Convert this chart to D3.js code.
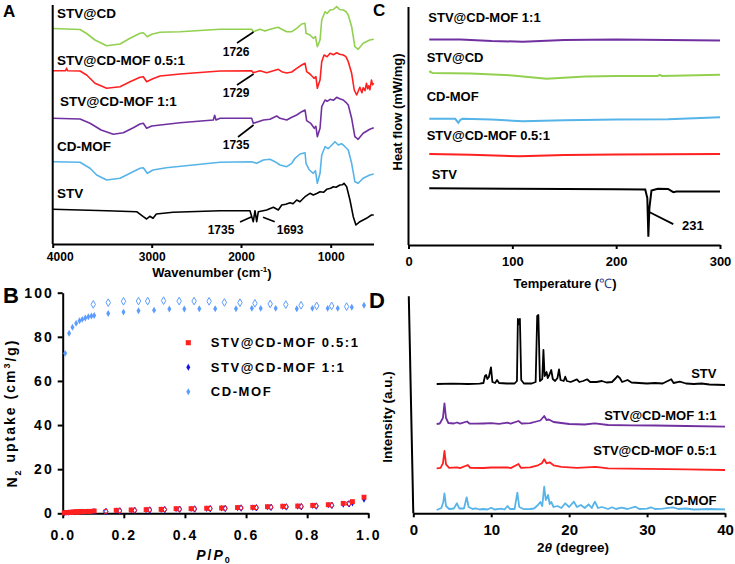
<!DOCTYPE html>
<meta charset="utf-8">
<script src="https://d3js.org/d3.v7.min.js"></script>
<style>
 body { margin: 0; background: #fff; }
 svg { font-family: "Liberation Sans", Arial, sans-serif; font-weight: bold; }
</style>
<div id="chart"></div>
<script>
const FONT = '"Liberation Sans", Arial, sans-serif';
const colorGreen = "#92d050", colorRed = "#ff2020", colorPurple = "#7030a0",
      colorSky = "#56b4e9", colorBlack = "#000000";
const colorMofBlue = "#5c9dff", colorDarkBlue = "#1414e6";

// ---------- A: FTIR (wavenumber, transmittance relative to start) ----------
const ftirNames = ["STV@CD", "STV@CD-MOF 0.5:1", "STV@CD-MOF 1:1", "CD-MOF", "STV"];
const ftirOffsets = [215.5, 173.3, 125.7, 82.3, 34.7];
const ftirSTVatCD = [[4000,0],[3724,-1],[3657,-5],[3573,-11.5],[3455,-17.2],[3320,-15.5],[3219,-9.8],[3118,-4.8],[3085,-4.2],[3045,-8.2],[3000,-5.8],[2907,-3.8],[2683,-3.2],[2235,-0.8],[1881,-0.8],[1863,-3.2],[1788,-0.8],[1732,-2.5],[1677,-0.8],[1584,1.2],[1546,-0.8],[1490,-3.2],[1434,-3.2],[1379,0.2],[1323,4.5],[1286,5.2],[1275,-4.8],[1231,-6.5],[1194,-9.8],[1170,-8],[1149,-18.2],[1119,-11.5],[1100,8.5],[1063,16.8],[1040,15],[1007,18.5],[970,19],[933,21.8],[900,19],[859,18.5],[830,17],[803,13.5],[765,1.8],[729,-18.2],[692,-20.8],[636,-14.8],[562,-11.5],[517,-10.8]];
const ftirMOF05 = [[4000,0],[3870,0],[3860,2.5],[3850,0],[3724,-0.3],[3657,-4.3],[3573,-12.6],[3455,-17.6],[3320,-16],[3219,-11],[3118,-6.6],[3085,-6],[3051,-11],[3000,-8.6],[2907,-5.3],[2683,-3.3],[2235,-0.3],[1881,0],[1863,-2],[1788,0],[1714,-2],[1639,0],[1584,1.4],[1546,-1],[1490,-2.3],[1434,-1.3],[1379,2.4],[1323,5.7],[1286,7.4],[1268,-1],[1231,-3.3],[1186,-7.6],[1165,-6],[1149,-17.6],[1119,-9.3],[1100,9],[1074,15.7],[1040,14],[1007,17.4],[970,16],[933,18],[900,16.5],[859,15.7],[830,14],[803,9],[765,-2.6],[736,-19.3],[709,-24.3],[673,-16.6],[650,-22],[636,-17],[615,-20],[599,-12.6],[585,-18],[573,-15],[560,-19],[543,-9.3],[530,-14],[517,-12.6]];
const ftirMOF11 = [[4000,0],[3724,-0.7],[3623,-5],[3511,-11.7],[3388,-16],[3287,-14.4],[3186,-9.4],[3118,-5.7],[3085,-5],[3051,-10],[3000,-7.7],[2683,-4.4],[2310,-1.7],[2295,3],[2280,-1.7],[2235,0],[1881,0],[1863,-5],[1750,-1.7],[1677,-1],[1602,2.3],[1565,0],[1490,-1.7],[1434,1],[1379,3.3],[1323,6.6],[1286,8.3],[1268,-2.4],[1223,-5],[1183,-10],[1165,-8],[1149,-18.4],[1119,-10],[1100,11.6],[1063,18.3],[1040,17],[1007,19],[970,18],[933,21],[900,19.5],[859,18.3],[830,16],[803,13.3],[765,0],[729,-18.4],[692,-21],[636,-15],[562,-11],[517,-9.4]];
const ftirCDMOF = [[4000,0],[3724,-0.6],[3623,-6.6],[3556,-13.3],[3455,-18.3],[3320,-16.6],[3219,-11.6],[3118,-6.6],[3085,-6],[3045,-11.6],[2985,-8.3],[2836,-6],[2537,-3.3],[2235,-0.6],[1881,0],[1825,-1.6],[1751,1.7],[1677,2.4],[1621,0],[1565,-3.3],[1490,-5],[1434,-1.6],[1398,3.4],[1342,7.7],[1286,9],[1275,-1.6],[1238,-8.3],[1194,-11.6],[1170,-9],[1149,-21.6],[1119,-11.6],[1100,6.7],[1063,15],[1030,13],[1007,15],[952,20],[915,16.7],[880,18],[859,16.7],[803,11.7],[765,-1.6],[729,-20],[692,-21.6],[636,-16.6],[562,-13.3],[517,-12.3]];
const ftirSTV = [[4000,0],[3455,-1.4],[3152,-2.4],[3085,-7.4],[3051,-9.7],[3020,-7],[2985,-9],[2948,-4.7],[2762,-3],[2235,-1.4],[1900,-1.4],[1863,-12.4],[1844,-1.4],[1825,-12.4],[1807,-2.4],[1714,-0.7],[1639,2],[1584,-0.7],[1546,4.3],[1500,5],[1453,6.6],[1420,5.5],[1379,9.3],[1342,7.6],[1310,10.5],[1286,12.6],[1231,16],[1194,14.3],[1150,16],[1119,17.6],[1080,17],[1045,20],[1000,21],[970,22.6],[940,22],[896,24.3],[870,24.5],[851,26],[821,22.6],[784,9.3],[747,-7.4],[717,-15.7],[673,-12.4],[599,-9],[543,-5.7],[517,-5.7]];
const ftirSeries = [ftirSTVatCD, ftirMOF05, ftirMOF11, ftirCDMOF, ftirSTV];
const ftirColors = [colorGreen, colorRed, colorPurple, colorSky, colorBlack];
const ftirTicks = [4000, 3000, 2000, 1000];
// label, series, line from (wn, v) to (wn, v), text at (wn, v)
const ftirNotes = [
  ["1726", 0, 1860, -3.5, 2045, -14.5, 2055, -23],
  ["1729", 1, 1860, -3.3, 2045, -14.3, 2055, -22],
  ["1735", 2, 1860, -6.7, 2034, -18.7, 2055, -26.7],
  ["1735", 4, 1880, -7.4, 2011, -12.7, 2224, -20.7],
  ["1693", 4, 1754, -8, 1624, -12.4, 1453, -20.7]
];

// ---------- B: N2 isotherms ----------
const bLegend = ["STV@CD-MOF 0.5:1", "STV@CD-MOF 1:1", "CD-MOF"];
const mofAds = [[0.008,72.5],[0.021,81.6],[0.032,84.3],[0.044,86.1],[0.055,87.3],[0.064,87.9],[0.074,88.5],[0.084,89.1],[0.094,89.4],[0.103,89.7],[0.149,90.6],[0.199,91.2],[0.248,91.8],[0.299,92.1],[0.349,92.6],[0.398,92.6],[0.447,92.7],[0.499,92.7],[0.567,92.7],[0.619,92.9],[0.648,92.9],[0.697,92.9],[0.766,92.7],[0.817,92.9],[0.867,92.9],[0.9,92.9],[0.946,93.4],[0.986,94.3]];
const mofDes = [[0.1,94.7],[0.149,95.5],[0.199,96.1],[0.248,96.2],[0.278,96.2],[0.33,96.4],[0.381,96.2],[0.43,96.2],[0.479,96.1],[0.529,95.6],[0.58,95.5],[0.629,95.2],[0.679,94.9],[0.73,94.6],[0.78,94.3],[0.831,94.0],[0.88,94.0],[0.929,93.7]];
const mof05Ads = [[0.005,0.2],[0.01,0.3],[0.015,0.35],[0.02,0.4],[0.025,0.45],[0.03,0.5],[0.035,0.55],[0.04,0.6],[0.045,0.62],[0.05,0.65],[0.055,0.7],[0.06,0.72],[0.065,0.75],[0.07,0.78],[0.075,0.8],[0.08,0.83],[0.085,0.85],[0.09,0.88],[0.103,1.06],[0.175,1.36],[0.224,1.5],[0.273,1.66],[0.322,1.8],[0.371,2.1],[0.42,2.1],[0.471,2.3],[0.52,2.4],[0.572,2.6],[0.622,2.7],[0.67,3.0],[0.72,3.2],[0.769,3.3],[0.818,3.6],[0.869,3.9],[0.918,4.5],[0.948,5.3],[0.986,7.3]];
const mof05Des = [[0.14,0.9],[0.185,1.2],[0.234,1.4],[0.283,1.6],[0.332,1.75],[0.381,1.9],[0.43,2.0],[0.481,2.2],[0.53,2.3],[0.582,2.5],[0.632,2.6],[0.68,2.8],[0.73,3.0],[0.779,3.1],[0.828,3.4],[0.879,3.7],[0.935,4.4]];
const mof11Ads = [[0.005,0.1],[0.02,0.3],[0.04,0.5],[0.06,0.6],[0.08,0.7],[0.103,0.9],[0.175,1.2],[0.224,1.35],[0.273,1.5],[0.322,1.65],[0.371,1.9],[0.42,2.0],[0.471,2.1],[0.52,2.25],[0.572,2.4],[0.622,2.55],[0.67,2.8],[0.72,3.0],[0.769,3.1],[0.818,3.4],[0.869,3.7],[0.918,4.0],[0.948,4.6],[0.986,6.2]];
const mof11Des = [[0.142,0.8],[0.187,1.1],[0.236,1.3],[0.285,1.5],[0.334,1.7],[0.383,1.85],[0.432,1.95],[0.483,2.1],[0.532,2.2],[0.584,2.4],[0.634,2.5],[0.682,2.7],[0.732,2.9],[0.781,3.0],[0.83,3.3],[0.881,3.6],[0.937,4.3]];
const bXTicks = [0, 0.2, 0.4, 0.6, 0.8, 1.0];
const bYTicks = [0, 20, 40, 60, 80, 100];

// ---------- C: DSC (temperature, heat flow relative) ----------
const dscNames = ["STV@CD-MOF 1:1", "STV@CD", "CD-MOF", "STV@CD-MOF 0.5:1", "STV"];
const dscOffsets = [207.3, 173.5, 127.3, 91.7, 57.3];
const dscMOF11 = [[20,0],[50,0],[80,-1.5],[110,-2.3],[150,-0.7],[200,0],[250,-0.5],[300,-1]];
const dscSTVatCD = [[20,0.5],[21,1.5],[23,0],[60,-0.5],[100,-2.5],[133,-5.8],[170,-3.5],[200,-3],[240,-3],[242,-2],[244,-3],[300,-1.8]];
const dscCDMOF = [[20,0],[45,0],[48,-4],[50,-1],[52,0],[80,-0.7],[110,-2.5],[150,-1.5],[200,-0.8],[250,-0.5],[300,1.4]];
const dscMOF05 = [[20,0],[60,-0.7],[107,-2.3],[150,-1],[200,-0.5],[300,0]];
const dscSTV = [[20,0],[100,-0.5],[200,-1],[228,-1.3],[230,-10],[231,-49],[232,-20],[234,-2.3],[240,-0.5],[250,-0.8],[255,-4],[258,-3.3],[300,-3.3]];
const dscSeries = [dscMOF11, dscSTVatCD, dscCDMOF, dscMOF05, dscSTV];
const dscColors = [colorPurple, colorGreen, colorSky, colorRed, colorBlack];
const dscTicks = [0, 100, 200, 300];
const dscNote = ["231", 4, 232.3, -24.3, 255, -36.3, 263.5, -37.3];

// ---------- D: PXRD (2theta, intensity relative) ----------
const xrdNames = ["STV", "STV@CD-MOF 1:1", "STV@CD-MOF 0.5:1", "CD-MOF"];
const xrdOffsets = [129.3, 89.3, 45, 3.3];
const xrdSTV = [[3,0],[5,0.3],[7,0],[8.5,0.3],[9.0,1],[9.2,8],[9.35,9],[9.5,5],[9.7,7],[9.97,16.7],[10.15,2],[10.5,1],[10.75,4],[11,1],[12,0.5],[13.0,0.5],[13.3,3],[13.42,65],[13.55,60],[13.68,65],[13.85,4],[14.2,0.5],[15.2,0.5],[15.7,2],[15.9,68],[16.05,69],[16.25,3],[16.55,5],[16.7,34],[16.85,8],[17.0,10],[17.1,12],[17.25,6],[17.45,9],[17.7,14],[17.9,5],[18.2,3],[18.5,6],[18.7,14.7],[18.9,4],[19.3,3],[19.5,7.3],[19.7,3],[20.2,2],[21,4.7],[21.3,2],[21.8,3],[22.3,4.7],[22.7,2],[23.5,2],[24.2,3],[24.8,1.5],[25.5,2],[26.0,6],[26.2,8],[26.5,6],[26.8,2],[27.5,4],[28,1.5],[29,1],[30,0.5],[31,1],[32,0.5],[33.1,4.7],[33.4,1],[34.2,2.3],[35,0.5],[36,0],[37,0.5],[38,-0.5],[40,-1]];
const xrdMOF11 = [[3,0],[3.4,0.5],[3.8,6],[4.0,20.7],[4.2,6],[4.5,1],[5.2,0.5],[5.6,1.5],[6,0.3],[6.9,2.5],[7.2,0.5],[8,0.3],[9,0.5],[10,0.8],[11,0.2],[12.1,1.3],[12.5,0.3],[13.5,3],[13.9,0.5],[15,0.8],[15.8,2.5],[16.3,3.5],[16.8,8],[17.1,4],[17.4,4.5],[18,2],[19,1],[20,0],[22,-0.5],[23.3,0.7],[25,-1],[28,-1.3],[31,-1.5],[35,-2],[40,-2.7]];
const xrdMOF05 = [[3,0],[3.5,0.5],[3.8,5],[4.0,17.3],[4.2,4],[4.6,0.5],[5.6,1],[6,0.2],[7,3.3],[7.3,0.5],[9,0.3],[10,0.8],[12.1,1],[12.5,0.2],[13.5,4.3],[13.8,0.5],[15,1],[16,3],[16.5,5],[16.8,9],[17.1,5],[17.5,6],[18,3],[19,1.5],[20,1],[21,0.5],[23.4,1.5],[25,0],[30,-0.5],[35,-1],[40,-1.7]];
const xrdCDMOF = [[3,0],[3.6,2],[3.85,8],[4.0,16.7],[4.2,4],[4.6,1],[5.2,1.5],[5.6,6.7],[5.9,1.5],[6.5,1.5],[6.85,12.7],[7.1,3],[7.6,1],[8,1.7],[8.5,0.5],[9,1],[9.5,0.5],[10,2.3],[10.4,0.5],[11.3,1.3],[11.7,0.5],[12.1,4],[12.4,1],[13.0,1],[13.35,17.3],[13.6,3],[14.2,0.8],[15,1],[15.5,1.5],[16.0,5],[16.3,8],[16.55,4],[16.8,23.3],[17.0,10],[17.3,15],[17.5,6],[17.7,8],[18.0,3],[18.5,4],[19,2],[19.5,6.7],[20,3],[20.6,8.3],[21,3],[21.5,5],[22,2],[22.5,5.7],[22.9,2],[23.3,8.3],[23.7,2],[24.2,3],[25,1],[25.5,2.7],[26,1],[26.7,2.3],[27.5,1],[28.5,3.3],[29,1],[30,1.3],[30.5,2.7],[31,1],[32,1.3],[33.3,2.7],[34,1],[35,1.5],[36,0.5],[38,1],[40,0.7]];
const xrdSeries = [xrdSTV, xrdMOF11, xrdMOF05, xrdCDMOF];
const xrdColors = [colorBlack, colorPurple, colorRed, colorSky];
const xrdTicks = [0, 10, 20, 30, 40];

const svg = d3.select("#chart").append("svg")
  .attr("width", 735).attr("height", 564)
  .style("background", "#fff");

function styleAxis(g, size, width) {
  g.attr("font-family", FONT).attr("font-size", size).attr("font-weight", "bold");
  g.select(".domain").attr("stroke-width", width);
  g.selectAll(".tick line").attr("stroke-width", width);
}

// ================= Panel A =================
const xA = d3.scaleLinear().domain([4000, 3000, 2000, 1000, 520]).range([52.7, 151.7, 241, 330.7, 373.5]);
const yA = d3.scaleLinear().domain([0, 240]).range([244, 4]);
const gA = svg.append("g");

ftirSeries.forEach((s, i) => {
  gA.append("path").datum(s)
    .attr("fill", "none").attr("stroke", ftirColors[i]).attr("stroke-width", 1.6)
    .attr("stroke-linejoin", "round")
    .attr("d", d3.line().x(d => xA(d[0])).y(d => yA(d[1] + ftirOffsets[i])));
});

const axA = gA.append("g").attr("transform", "translate(0,244)")
  .call(d3.axisBottom(xA).tickValues(ftirTicks).tickFormat(d3.format("d"))
    .tickSize(4).tickSizeOuter(0).tickPadding(4));
styleAxis(axA, 12, 2);
axA.selectAll(".tick text").filter(d => d === 4000).attr("dx", 7);
gA.append("line").attr("x1", xA(4000)).attr("x2", xA(4000)).attr("y1", 5).attr("y2", 244)
  .attr("stroke", "#000").attr("stroke-width", 2);

const labA = [[57, 13], [57, 60], [60, 101], [57, 146], [57, 193]];
ftirNames.forEach((n, i) => {
  gA.append("text").attr("x", labA[i][0]).attr("y", labA[i][1]).attr("dy", "0.35em")
    .attr("font-size", 13.5).text(n);
});
ftirNotes.forEach(a => {
  const off = ftirOffsets[a[1]];
  gA.append("line")
    .attr("x1", xA(a[2])).attr("y1", yA(a[3] + off))
    .attr("x2", xA(a[4])).attr("y2", yA(a[5] + off))
    .attr("stroke", "#000").attr("stroke-width", 1.6);
  gA.append("text").attr("x", xA(a[6])).attr("y", yA(a[7] + off)).attr("dy", "0.35em")
    .attr("text-anchor", "middle").attr("font-size", 12).text(a[0]);
});
const tA = gA.append("text").attr("x", 212).attr("y", 272).attr("dy", "0.35em")
  .attr("text-anchor", "middle").attr("font-size", 13);
tA.append("tspan").text("Wavenumber (cm");
tA.append("tspan").attr("font-size", 8).attr("dy", "-0.6em").text("-1");
tA.append("tspan").attr("dy", "0.45em").text(")");
svg.append("text").attr("x", 3).attr("y", 17).attr("font-size", 17).text("A");

// ================= Panel B =================
const xB = d3.scaleLinear().domain([0, 1]).range([62.7, 368.3]);
const yB = d3.scaleLinear().domain([0, 100]).range([513.3, 292.7]);
const gB = svg.append("g");

const axBx = gB.append("g").attr("transform", "translate(0,513.3)")
  .call(d3.axisBottom(xB).tickValues(bXTicks).tickFormat(d3.format(".1f")).tickSize(5).tickSizeOuter(0).tickPadding(12));
styleAxis(axBx, 14, 2);
axBx.selectAll(".tick text").attr("letter-spacing", 2);
const axBy = gB.append("g").attr("transform", "translate(62.7,0)")
  .call(d3.axisLeft(yB).tickValues(bYTicks).tickSize(5).tickSizeOuter(0).tickPadding(4));
styleAxis(axBy, 14, 2);
axBy.selectAll(".tick text").attr("letter-spacing", 2);

const sym = (type, size) => d3.symbol().type(type).size(size);
function drawPts(data, type, size, fill, stroke) {
  gB.append("g").selectAll("path").data(data).join("path")
    .attr("transform", d => `translate(${xB(d[0])},${yB(d[1])})`)
    .attr("d", sym(type, size)())
    .attr("fill", fill).attr("stroke", stroke).attr("stroke-width", 1);
}
drawPts(mofDes, d3.symbolDiamond, 17, "none", colorMofBlue);
drawPts(mofAds, d3.symbolDiamond, 14, colorMofBlue, "none");
drawPts(mof11Des, d3.symbolDiamond, 12, "none", colorDarkBlue);
drawPts(mof11Ads, d3.symbolDiamond, 12, colorDarkBlue, "none");
drawPts(mof05Des, d3.symbolCircle, 16, "none", colorRed);
drawPts(mof05Ads, d3.symbolSquare, 24, colorRed, "none");

const legY = [342.7, 367.3, 391.7];
const legSym = [[d3.symbolSquare, 26, colorRed], [d3.symbolDiamond, 14, colorDarkBlue], [d3.symbolDiamond, 14, colorMofBlue]];
bLegend.forEach((n, i) => {
  gB.append("path").attr("transform", `translate(188.3,${legY[i]})`)
    .attr("d", sym(legSym[i][0], legSym[i][1])()).attr("fill", legSym[i][2]);
  gB.append("text").attr("x", 210.7).attr("y", legY[i]).attr("dy", "0.35em")
    .attr("font-size", 13).attr("letter-spacing", 1.6).text(n);
});

const tBx = gB.append("text").attr("x", 214).attr("y", 555).attr("dy", "0.35em")
  .attr("text-anchor", "middle").attr("font-size", 14).attr("letter-spacing", 2);
tBx.append("tspan").attr("font-style", "italic").text("P");
tBx.append("tspan").text("/");
tBx.append("tspan").attr("font-style", "italic").text("P");
tBx.append("tspan").attr("font-size", 9).attr("dy", "0.35em").text("0");
const tBy = gB.append("text").attr("transform", "translate(12,413) rotate(-90)").attr("dy", "0.35em")
  .attr("text-anchor", "middle").attr("font-size", 14).attr("letter-spacing", 2);
tBy.append("tspan").text("N");
tBy.append("tspan").attr("font-size", 9).attr("dy", "0.4em").text("2");
tBy.append("tspan").attr("dy", "-0.4em").text(" uptake (cm");
tBy.append("tspan").attr("font-size", 9).attr("dy", "-0.6em").text("3");
tBy.append("tspan").attr("dy", "0.45em").text("/g)");
svg.append("text").attr("x", 3).attr("y", 303).attr("font-size", 22).text("B");

// ================= Panel C =================
const xC = d3.scaleLinear().domain([0, 300]).range([408.5, 720]);
const yC = d3.scaleLinear().domain([0, 240]).range([245, 7]);
const gC = svg.append("g");

dscSeries.forEach((s, i) => {
  gC.append("path").datum(s)
    .attr("fill", "none").attr("stroke", dscColors[i]).attr("stroke-width", 2)
    .attr("d", d3.line().x(d => xC(d[0])).y(d => yC(d[1] + dscOffsets[i])));
});
const axC = gC.append("g").attr("transform", "translate(0,245)")
  .call(d3.axisBottom(xC).tickValues(dscTicks).tickSize(4).tickSizeOuter(0).tickPadding(8));
styleAxis(axC, 13, 2);
gC.append("line").attr("x1", xC(0)).attr("x2", xC(0)).attr("y1", 7).attr("y2", 245)
  .attr("stroke", "#000").attr("stroke-width", 2);

const labC = [[428.3, 17.3], [426.7, 57.3], [426.7, 96.7], [426.7, 135], [431.7, 174]];
dscNames.forEach((n, i) => {
  gC.append("text").attr("x", labC[i][0]).attr("y", labC[i][1]).attr("dy", "0.35em")
    .attr("font-size", 13).text(n);
});
{
  const off = dscOffsets[dscNote[1]];
  gC.append("line")
    .attr("x1", xC(dscNote[2])).attr("y1", yC(dscNote[3] + off))
    .attr("x2", xC(dscNote[4])).attr("y2", yC(dscNote[5] + off))
    .attr("stroke", "#000").attr("stroke-width", 1.8);
  gC.append("text").attr("x", xC(dscNote[6])).attr("y", yC(dscNote[7] + off)).attr("dy", "0.35em")
    .attr("font-size", 13).text(dscNote[0]);
}
const tC = gC.append("text").attr("x", 565).attr("y", 283).attr("dy", "0.35em")
  .attr("text-anchor", "middle").attr("font-size", 13);
tC.append("tspan").text("Temperature (");
tC.append("tspan").attr("fill", "#2b3f91").attr("font-weight", "normal").text("\u2103");
tC.append("tspan").text(")");
gC.append("text").attr("transform", "translate(397,112) rotate(-90)").attr("dy", "0.35em")
  .attr("text-anchor", "middle").attr("font-size", 13).text("Heat flow (mW/mg)");
svg.append("text").attr("x", 373).attr("y", 16).attr("font-size", 17).text("C");

// ================= Panel D =================
const xD = d3.scaleLinear().domain([0, 40]).range([413.3, 725]);
const yD = d3.scaleLinear().domain([0, 217]).range([513.3, 296.3]);
const gD = svg.append("g");

xrdSeries.forEach((s, i) => {
  gD.append("path").datum(s)
    .attr("fill", "none").attr("stroke", xrdColors[i]).attr("stroke-width", 1.8)
    .attr("stroke-linejoin", "round")
    .attr("d", d3.line().x(d => xD(d[0])).y(d => yD(d[1] + xrdOffsets[i])));
});
const axD = gD.append("g").attr("transform", "translate(0,513.3)")
  .call(d3.axisBottom(xD).tickValues(xrdTicks).tickSize(4).tickSizeOuter(0).tickPadding(7));
styleAxis(axD, 15, 2);
gD.append("line").attr("x1", xD(0) - 4.5).attr("x2", xD(0)).attr("y1", yD(217)).attr("y2", yD(0))
  .attr("stroke", "#000").attr("stroke-width", 2);

const labDy = [373.3, 415, 450.7, 500.7];
xrdNames.forEach((n, i) => {
  gD.append("text").attr("x", 716.5).attr("y", labDy[i]).attr("dy", "0.35em")
    .attr("text-anchor", "end").attr("font-size", 13).text(n);
});
const tD = gD.append("text").attr("x", 573).attr("y", 547).attr("dy", "0.35em")
  .attr("text-anchor", "middle").attr("font-size", 13.5);
tD.append("tspan").text("2");
tD.append("tspan").attr("font-style", "italic").text("\u03b8");
tD.append("tspan").text(" (degree)");
gD.append("text").attr("transform", "translate(387,417) rotate(-90)").attr("dy", "0.35em")
  .attr("text-anchor", "middle").attr("font-size", 13.5).text("Intensity (a.u.)");
svg.append("text").attr("x", 369).attr("y", 308).attr("font-size", 22).text("D");
</script>
